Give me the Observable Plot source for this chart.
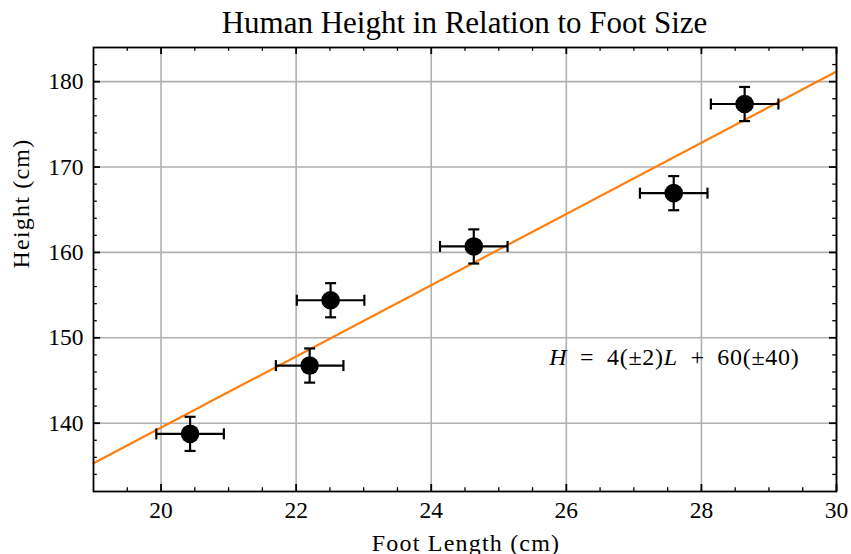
<!DOCTYPE html>
<html>
<head>
<meta charset="utf-8">
<script src="https://cdn.jsdelivr.net/npm/d3@7"></script>
<script src="https://cdn.jsdelivr.net/npm/@observablehq/plot@0.6"></script>
<style>
  body { margin: 0; background: #fff; }
  #title {
    width: 851px; height: 40px; box-sizing: border-box;
    padding: 7px 15px 0 93px; text-align: center;
    font-family: "Liberation Serif", serif; font-size: 31px; line-height: 31px; color: #000;
  }
  #chart svg { display: block; }
</style>
</head>
<body>
<div id="title">Human Height in Relation to Foot Size</div>
<div id="chart"></div>
<script>
// ---- data ----
const footLength = [20.43, 22.20, 22.51, 24.63, 27.59, 28.64];
const heightCm   = [138.75, 146.75, 154.4, 160.7, 166.94, 177.38];
const footErr    = [0.5, 0.5, 0.5, 0.5, 0.5, 0.5];
const heightErr  = [2, 2, 2, 2, 2, 2];

// fitted line endpoints
const fitX = [19, 30];
const fitY = [135.3, 181.2];

// axes
const xDomain = [19, 30];
const yDomain = [132, 184];
const xMajor = [20, 22, 24, 26, 28, 30];
const xMinor = [19.5, 20.5, 21, 21.5, 22.5, 23, 23.5, 24.5, 25, 25.5, 26.5, 27, 27.5, 28.5, 29, 29.5];
const yMajor = [140, 150, 160, 170, 180];
const yMinor = [134, 136, 138, 142, 144, 146, 148, 152, 154, 156, 158, 162, 164, 166, 168, 172, 174, 176, 178, 182];

const xLabel = "Foot Length (cm)";
const yLabel = "Height (cm)";
const equation = "H = 4(±2)L + 60(±40)";
const equationPos = [{x: 27.6, y: 147.7}];

// ---- build ----
const points = footLength.map((x, i) => ({foot: x, height: heightCm[i], fe: footErr[i], he: heightErr[i]}));
const fitLine = fitX.map((x, i) => ({x, y: fitY[i]}));

const W = 851, H = 514, mT = 7, mB = 63, mL = 93, mR = 15;
const plotH = H - mT - mB, plotW = W - mL - mR;
const majorLen = 7, minorLen = 3.8;

const vbar = {draw(ctx, size) { const r = Math.sqrt(size / Math.PI); ctx.moveTo(0, -r); ctx.lineTo(0, r); }};
const hbar = {draw(ctx, size) { const r = Math.sqrt(size / Math.PI); ctx.moveTo(-r, 0); ctx.lineTo(r, 0); }};

const tickStyle = {stroke: "black", strokeWidth: 1.8};
const minorStyle = {stroke: "black", strokeWidth: 1.3};

const chart = Plot.plot({
  width: W, height: H,
  marginTop: mT, marginBottom: mB, marginLeft: mL, marginRight: mR,
  x: {domain: xDomain, axis: null},
  y: {domain: yDomain, axis: null},
  style: {fontFamily: "'Liberation Serif', serif", fontSize: "23px", color: "black", background: "white", overflow: "visible"},
  marks: [
    Plot.gridX(xMajor, {stroke: "#b0b0b0", strokeOpacity: 1, strokeWidth: 1.6}),
    Plot.gridY(yMajor, {stroke: "#b0b0b0", strokeOpacity: 1, strokeWidth: 1.6}),
    Plot.line(fitLine, {x: "x", y: "y", stroke: "#ff7f0e", strokeWidth: 2.2}),
    // error bars
    Plot.ruleY(points, {y: "height", x1: d => d.foot - d.fe, x2: d => d.foot + d.fe, stroke: "black", strokeWidth: 2.2}),
    Plot.ruleX(points, {x: "foot", y1: d => d.height - d.he, y2: d => d.height + d.he, stroke: "black", strokeWidth: 2.2}),
    Plot.dot(points, {x: d => d.foot - d.fe, y: "height", symbol: vbar, r: 5.5, stroke: "black", strokeWidth: 2.2, fill: "none"}),
    Plot.dot(points, {x: d => d.foot + d.fe, y: "height", symbol: vbar, r: 5.5, stroke: "black", strokeWidth: 2.2, fill: "none"}),
    Plot.dot(points, {x: "foot", y: d => d.height - d.he, symbol: hbar, r: 5.5, stroke: "black", strokeWidth: 2.2, fill: "none"}),
    Plot.dot(points, {x: "foot", y: d => d.height + d.he, symbol: hbar, r: 5.5, stroke: "black", strokeWidth: 2.2, fill: "none"}),
    Plot.dot(points, {x: "foot", y: "height", r: 9.3, fill: "black", stroke: "none"}),
    // inward ticks on all four sides
    Plot.ruleX(xMajor, {insetTop: plotH - majorLen, ...tickStyle}),
    Plot.ruleX(xMajor, {insetBottom: plotH - majorLen, ...tickStyle}),
    Plot.ruleX(xMinor, {insetTop: plotH - minorLen, ...minorStyle}),
    Plot.ruleX(xMinor, {insetBottom: plotH - minorLen, ...minorStyle}),
    Plot.ruleY(yMajor, {insetRight: plotW - majorLen, ...tickStyle}),
    Plot.ruleY(yMajor, {insetLeft: plotW - majorLen, ...tickStyle}),
    Plot.ruleY(yMinor, {insetRight: plotW - minorLen, ...minorStyle}),
    Plot.ruleY(yMinor, {insetLeft: plotW - minorLen, ...minorStyle}),
    Plot.frame({stroke: "black", strokeWidth: 1.8}),
    // tick labels
    Plot.axisX(xMajor, {tickSize: 0, tickPadding: 10, label: null, fontSize: 23.5}),
    Plot.axisY(yMajor, {tickSize: 0, tickPadding: 10, label: null, fontSize: 23.5}),
    // axis labels
    Plot.text([xLabel], {text: d => d, frameAnchor: "bottom", lineAnchor: "bottom", dy: 59, dx: 1, fontSize: 24}),
    Plot.text([yLabel], {text: d => d, frameAnchor: "left", lineAnchor: "bottom", rotate: -90, dx: -65, dy: -1, fontSize: 24}),
    // equation
    Plot.text(equationPos, {x: "x", y: "y", text: () => equation, fontSize: 24, textAnchor: "middle", lineAnchor: "middle"})
  ]
});
document.getElementById("chart").appendChild(chart);

// CM-like wider letter spacing for labels; italic math variables in the equation
chart.querySelectorAll("text").forEach(t => {
  const s = t.textContent;
  if (s === xLabel || s === yLabel) t.style.letterSpacing = "1.2px";
  if (s === equation) {
    t.textContent = "";
    t.style.letterSpacing = "0.7px";
    const parts = [["H", true], ["\u2002=\u20024(±2)", false], ["L", true], ["\u2002+\u200260(±40)", false]];
    for (const [txt, it] of parts) {
      const ts = document.createElementNS("http://www.w3.org/2000/svg", "tspan");
      ts.textContent = txt;
      if (it) ts.setAttribute("font-style", "italic");
      t.appendChild(ts);
    }
  }
});
</script>
</body>
</html>
